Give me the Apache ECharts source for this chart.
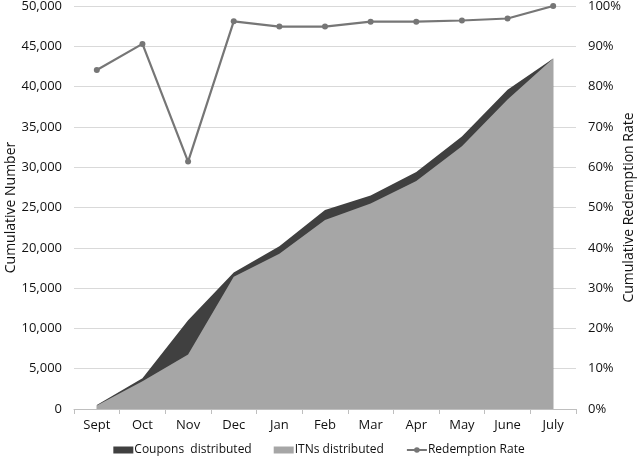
<!DOCTYPE html>
<html>
<head>
<meta charset="utf-8">
<script src="https://cdn.jsdelivr.net/npm/echarts@6/dist/echarts.min.js"></script>
<style>html,body{margin:0;padding:0;background:#fff}#c{width:638px;height:460px}</style>
</head>
<body>
<div id="c"></div>
<script>
const categories = ['Sept','Oct','Nov','Dec','Jan','Feb','Mar','Apr','May','June','July'];
const couponsDistributed = [500, 3800, 11000, 16950, 20200, 24700, 26500, 29400, 33800, 39600, 43500];
const itnsDistributed = [420, 3450, 6750, 16400, 19250, 23450, 25500, 28300, 32600, 38400, 43500];
const redemptionRate = [84.1, 90.6, 61.4, 96.2, 94.9, 94.9, 96.1, 96.1, 96.4, 96.9, 100];
const leftTicks = {min: 0, max: 50000, interval: 5000};
const rightTicks = {min: 0, max: 100, interval: 10};

const font = '"Open Sans", "Liberation Sans", sans-serif';
const chart = echarts.init(document.getElementById('c'), null, {renderer: 'canvas'});
chart.setOption({
  animation: false,
  backgroundColor: '#fff',
  textStyle: {fontFamily: font},
  grid: {left: 74, right: 62, top: 6, bottom: 51, containLabel: false, outerBoundsMode: 'none'},
  legend: {
    top: 444, left: 'center', padding: 0, itemGap: 22, itemWidth: 20, itemHeight: 7,
    textStyle: {fontSize: 12, color: '#111', fontFamily: font, padding: [0,0,0,-4]},
    data: [
      {name: 'Coupons  distributed', icon: 'rect'},
      {name: 'ITNs distributed', icon: 'rect'},
      {name: 'Redemption Rate'}
    ]
  },
  xAxis: {
    type: 'category', data: categories, boundaryGap: true,
    axisLine: {lineStyle: {color: '#bfbfbf'}},
    axisTick: {show: true, length: 5, lineStyle: {color: '#bfbfbf'}},
    axisLabel: {fontSize: 13, color: '#111', margin: 10}
  },
  yAxis: [
    {
      type: 'value', min: leftTicks.min, max: leftTicks.max, interval: leftTicks.interval,
      name: 'Cumulative Number', nameLocation: 'middle', nameGap: 56, nameRotate: 90, nameMoveOverlap: false,
      nameTextStyle: {fontSize: 14, color: '#111'},
      axisLine: {show: false}, axisTick: {show: false},
      axisLabel: {fontSize: 13, color: '#111', margin: 12, formatter: v => v.toLocaleString('en-US')},
      splitLine: {lineStyle: {color: '#d9d9d9'}}
    },
    {
      type: 'value', min: rightTicks.min, max: rightTicks.max, interval: rightTicks.interval,
      name: 'Cumulative Redemption Rate', nameLocation: 'middle', nameGap: 46, nameRotate: 90, nameMoveOverlap: false,
      nameTextStyle: {fontSize: 14, color: '#111'},
      axisLine: {show: false}, axisTick: {show: false},
      axisLabel: {fontSize: 13, color: '#111', margin: 12, formatter: v => v + '%'},
      splitLine: {show: false}
    }
  ],
  series: [
    {
      name: 'Coupons  distributed', type: 'line', data: couponsDistributed,
      symbol: 'none', lineStyle: {width: 0}, itemStyle: {color: '#404040'},
      areaStyle: {color: '#404040', opacity: 1}, z: 1
    },
    {
      name: 'ITNs distributed', type: 'line', data: itnsDistributed,
      symbol: 'none', lineStyle: {width: 0}, itemStyle: {color: '#a6a6a6'},
      areaStyle: {color: '#a6a6a6', opacity: 1}, z: 2
    },
    {
      name: 'Redemption Rate', type: 'line', yAxisIndex: 1, data: redemptionRate,
      symbol: 'circle', symbolSize: 6, itemStyle: {color: '#767676'},
      lineStyle: {color: '#767676', width: 2.2}, z: 3
    }
  ]
});
</script>
</body>
</html>
